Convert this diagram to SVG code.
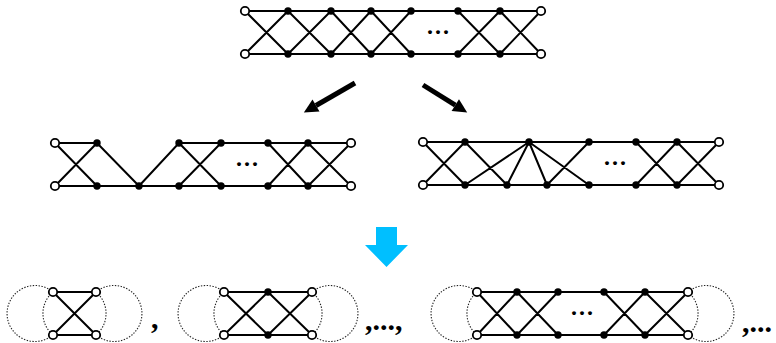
<svg xmlns="http://www.w3.org/2000/svg" width="776" height="343" viewBox="0 0 776 343">
  <style>
    .e { stroke: #000; stroke-width: 2; fill: none; stroke-linecap: round; }
    .o { fill: #fff; stroke: #000; stroke-width: 1.8; }
    .f { fill: #000; }
    .dl { stroke: #222; stroke-width: 1.1; fill: none; stroke-dasharray: 1.4 1.5; }
    .dots { font-family: "Liberation Serif", serif; font-weight: bold; font-size: 24px; letter-spacing: 2px; fill: #000; }
    .punct { font-family: "Liberation Serif", serif; font-weight: bold; font-size: 30px; fill: #000; }
    .big { stroke: #000; stroke-width: 5; fill: none; }
  </style>
  <defs>
    <marker id="head" viewBox="0 0 10 10" refX="0" refY="5" markerWidth="3" markerHeight="2.8" orient="auto" markerUnits="strokeWidth">
      <path d="M0,0 L10,5 L0,10 z" fill="#000"/>
    </marker>
    <circle id="on" r="4.2" class="o"/>
    <circle id="fn" r="3.7" class="f"/>
  </defs>

  <!-- connectors -->
  <g id="connectors">
    <!-- top ladder -->
    <path class="e" d="M245,11 H541 M245,54 H541
      M245,11 L288,54 M245,54 L288,11
      M288,11 L331,54 M288,54 L331,11
      M331,11 L371,54 M331,54 L371,11
      M371,11 L411,54 M371,54 L411,11
      M458,11 L500,54 M458,54 L500,11
      M500,11 L541,54 M500,54 L541,11"/>
    <!-- lower-left variant -->
    <path class="e" d="M55,143 H97 L139,186 L179,143 H351 M55,186 H351
      M55,143 L97,186 M55,186 L97,143
      M179,143 L221,186 M179,186 L221,143
      M268,143 L308,186 M268,186 L308,143
      M308,143 L351,186 M308,186 L351,143"/>
    <!-- lower-right variant -->
    <path class="e" d="M423,142 H719 M423,185 H719
      M423,142 L465,185 M423,185 L465,142
      M465,142 L507,185 M465,185 L529,142
      M529,142 L507,185 M529,142 L547,185 M529,142 L589,185
      M547,185 L589,142
      M636,142 L677,185 M636,185 L677,142
      M677,142 L719,185 M677,185 L719,142"/>
    <!-- bottom row graphs -->
    <path class="e" d="M53,292 H96 M53,335 H96 M53,292 L96,335 M53,335 L96,292"/>
    <path class="e" d="M224,292 H312 M224,335 H312
      M224,292 L268,335 M224,335 L268,292
      M268,292 L312,335 M268,335 L312,292"/>
    <path class="e" d="M477,292 H688 M477,335 H688
      M477,292 L517,335 M477,335 L517,292
      M517,292 L558,335 M517,335 L558,292
      M604,292 L645,335 M604,335 L645,292
      M645,292 L688,335 M645,335 L688,292"/>
    <!-- dotted loops -->
    <path class="dl" d="M53,292 A28,28 0 1 0 53,335 M53,292 A28,28 0 0 0 53,335
      M96,292 A28,28 0 0 1 96,335 M96,292 A28,28 0 1 1 96,335"/>
    <path class="dl" d="M224,292 A28,28 0 1 0 224,335 M224,292 A28,28 0 0 0 224,335
      M312,292 A28,28 0 0 1 312,335 M312,292 A28,28 0 1 1 312,335"/>
    <path class="dl" d="M477,292 A28,28 0 1 0 477,335 M477,292 A28,28 0 0 0 477,335
      M688,292 A28,28 0 0 1 688,335 M688,292 A28,28 0 1 1 688,335"/>
    <!-- derivation arrows -->
    <line class="big" x1="355" y1="83" x2="316" y2="105.5" marker-end="url(#head)"/>
    <line class="big" x1="423" y1="85" x2="455.3" y2="105.1" marker-end="url(#head)"/>
    <polygon fill="#00BFFF" points="376,227 397,227 397,245 408,245 386.5,267 365,245 376,245"/>
  </g>

  <!-- top ladder nodes -->
  <g id="top-ladder">
    <use href="#on" x="245" y="11"/><use href="#on" x="245" y="54"/>
    <use href="#fn" x="288" y="11"/><use href="#fn" x="288" y="54"/>
    <use href="#fn" x="331" y="11"/><use href="#fn" x="331" y="54"/>
    <use href="#fn" x="371" y="11"/><use href="#fn" x="371" y="54"/>
    <use href="#fn" x="411" y="11"/><use href="#fn" x="411" y="54"/>
    <use href="#fn" x="458" y="11"/><use href="#fn" x="458" y="54"/>
    <use href="#fn" x="500" y="11"/><use href="#fn" x="500" y="54"/>
    <use href="#on" x="541" y="11"/><use href="#on" x="541" y="54"/>
    <text class="dots" x="427" y="34">...</text>
  </g>

  <g id="left-variant">
    <use href="#on" x="55" y="143"/><use href="#on" x="55" y="186"/>
    <use href="#fn" x="97" y="143"/><use href="#fn" x="97" y="186"/>
    <use href="#fn" x="139" y="186"/>
    <use href="#fn" x="179" y="143"/><use href="#fn" x="179" y="186"/>
    <use href="#fn" x="221" y="143"/><use href="#fn" x="221" y="186"/>
    <use href="#fn" x="268" y="143"/><use href="#fn" x="268" y="186"/>
    <use href="#fn" x="308" y="143"/><use href="#fn" x="308" y="186"/>
    <use href="#on" x="351" y="143"/><use href="#on" x="351" y="186"/>
    <text class="dots" x="236" y="166">...</text>
  </g>

  <g id="right-variant">
    <use href="#on" x="423" y="142"/><use href="#on" x="423" y="185"/>
    <use href="#fn" x="465" y="142"/><use href="#fn" x="465" y="185"/>
    <use href="#fn" x="507" y="185"/>
    <use href="#fn" x="529" y="142"/>
    <use href="#fn" x="547" y="185"/>
    <use href="#fn" x="589" y="142"/><use href="#fn" x="589" y="185"/>
    <use href="#fn" x="636" y="142"/><use href="#fn" x="636" y="185"/>
    <use href="#fn" x="677" y="142"/><use href="#fn" x="677" y="185"/>
    <use href="#on" x="719" y="142"/><use href="#on" x="719" y="185"/>
    <text class="dots" x="604" y="165">...</text>
  </g>

  <g id="piece-1">
    <use href="#on" x="53" y="292"/><use href="#on" x="96" y="292"/>
    <use href="#on" x="53" y="335"/><use href="#on" x="96" y="335"/>
  </g>

  <g id="piece-2">
    <use href="#on" x="224" y="292"/><use href="#fn" x="268" y="292"/><use href="#on" x="312" y="292"/>
    <use href="#on" x="224" y="335"/><use href="#fn" x="268" y="335"/><use href="#on" x="312" y="335"/>
  </g>

  <g id="piece-n">
    <use href="#on" x="477" y="292"/><use href="#on" x="477" y="335"/>
    <use href="#fn" x="517" y="292"/><use href="#fn" x="517" y="335"/>
    <use href="#fn" x="558" y="292"/><use href="#fn" x="558" y="335"/>
    <use href="#fn" x="604" y="292"/><use href="#fn" x="604" y="335"/>
    <use href="#fn" x="645" y="292"/><use href="#fn" x="645" y="335"/>
    <use href="#on" x="688" y="292"/><use href="#on" x="688" y="335"/>
    <text class="dots" x="571" y="315">...</text>
  </g>

  <g id="sequence-marks">
    <text class="punct" x="151" y="328">,</text>
    <text class="punct" x="365" y="330">,...,</text>
    <text class="punct" x="742" y="332">,...</text>
  </g>
</svg>
